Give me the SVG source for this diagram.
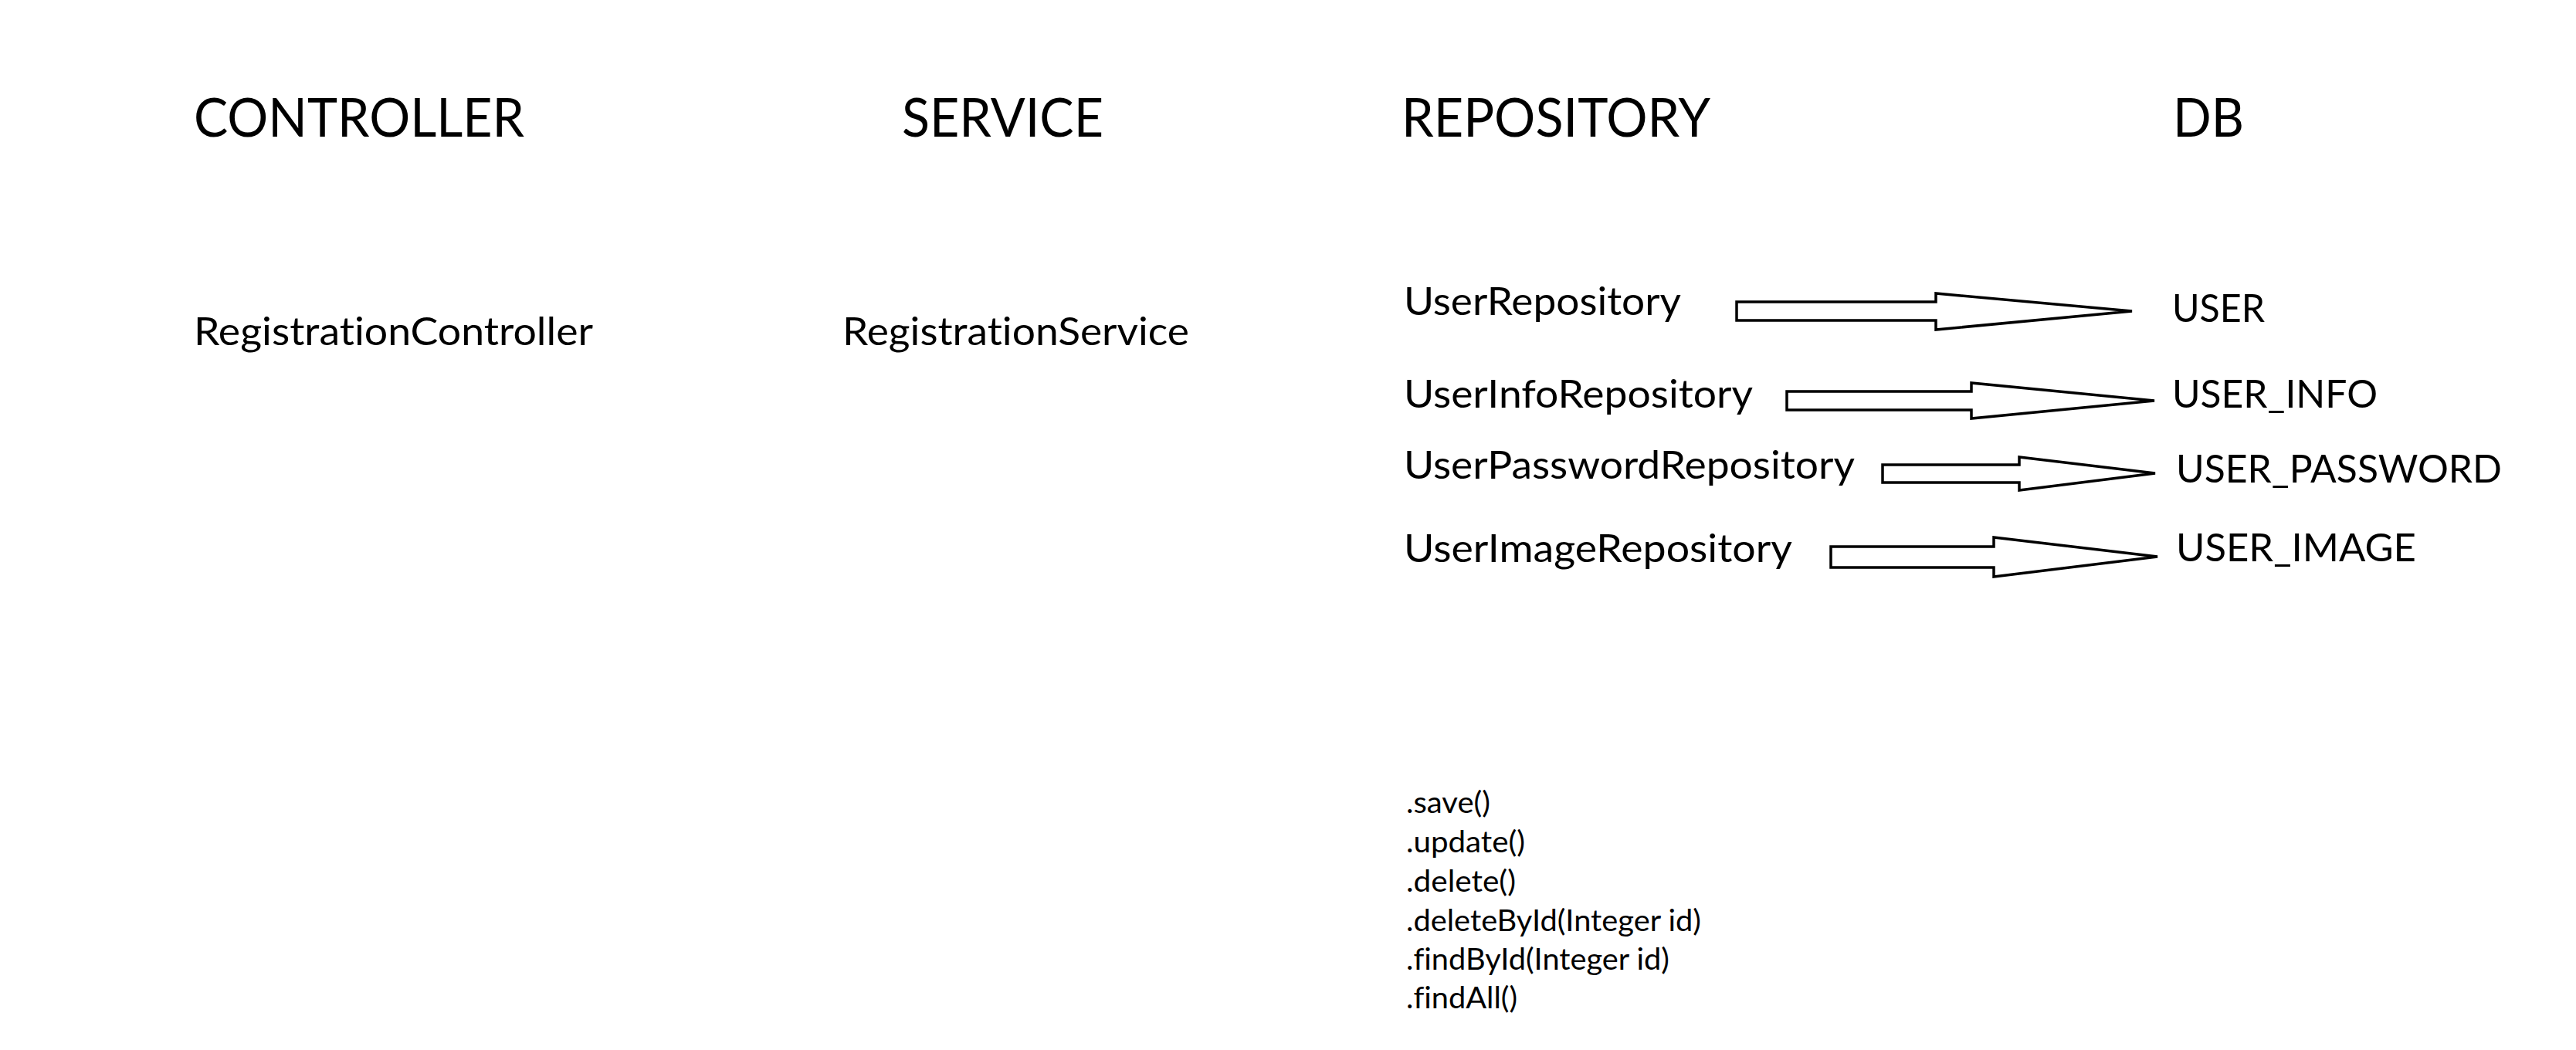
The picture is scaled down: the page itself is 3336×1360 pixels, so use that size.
<svg xmlns="http://www.w3.org/2000/svg" width="3336" height="1360" viewBox="0 0 3336 1360">
<style>
text { font-family: Lato, "Noto Sans", "Liberation Sans", sans-serif; fill: #000; font-variant-ligatures: none; font-feature-settings: "liga" 0; }
.h { font-size: 70px; }
.n { font-size: 50px; }
.m { font-size: 38px; }
.arrow { fill: #fff; stroke: #000; stroke-width: 3.5; stroke-linejoin: miter; }
</style>
<rect width="3336" height="1360" fill="#fff"/>
<g id="headers">
<text class="h" x="251" y="177" textLength="428" lengthAdjust="spacingAndGlyphs">CONTROLLER</text>
<text class="h" x="1168" y="177" textLength="261" lengthAdjust="spacingAndGlyphs">SERVICE</text>
<text class="h" x="1815" y="177" textLength="400" lengthAdjust="spacingAndGlyphs">REPOSITORY</text>
<text class="h" x="2814" y="177" textLength="92" lengthAdjust="spacingAndGlyphs">DB</text>
</g>
<g id="RegistrationController"><text class="n" x="251" y="447" textLength="517" lengthAdjust="spacingAndGlyphs">RegistrationController</text></g>
<g id="RegistrationService"><text class="n" x="1091" y="447" textLength="449" lengthAdjust="spacingAndGlyphs">RegistrationService</text></g>
<g id="UserRepository"><text class="n" x="1818" y="408" textLength="359" lengthAdjust="spacingAndGlyphs">UserRepository</text></g>
<g id="UserInfoRepository"><text class="n" x="1818" y="528" textLength="452" lengthAdjust="spacingAndGlyphs">UserInfoRepository</text></g>
<g id="UserPasswordRepository"><text class="n" x="1818" y="620" textLength="584" lengthAdjust="spacingAndGlyphs">UserPasswordRepository</text></g>
<g id="UserImageRepository"><text class="n" x="1818" y="728" textLength="503" lengthAdjust="spacingAndGlyphs">UserImageRepository</text></g>
<g id="USER"><text class="n" x="2813" y="417" textLength="120" lengthAdjust="spacingAndGlyphs">USER</text></g>
<g id="USER_INFO"><text class="n" x="2813" y="528" textLength="266" lengthAdjust="spacingAndGlyphs">USER_INFO</text></g>
<g id="USER_PASSWORD"><text class="n" x="2818" y="625" textLength="422" lengthAdjust="spacingAndGlyphs">USER_PASSWORD</text></g>
<g id="USER_IMAGE"><text class="n" x="2818" y="727" textLength="311" lengthAdjust="spacingAndGlyphs">USER_IMAGE</text></g>
<g id="methods">
<text class="m" x="1821" y="1053" textLength="109" lengthAdjust="spacingAndGlyphs">.save()</text>
<text class="m" x="1821" y="1104" textLength="154" lengthAdjust="spacingAndGlyphs">.update()</text>
<text class="m" x="1821" y="1155" textLength="142" lengthAdjust="spacingAndGlyphs">.delete()</text>
<text class="m" x="1821" y="1206" textLength="382" lengthAdjust="spacingAndGlyphs">.deleteById(Integer id)</text>
<text class="m" x="1821" y="1256" textLength="341" lengthAdjust="spacingAndGlyphs">.findById(Integer id)</text>
<text class="m" x="1821" y="1306" textLength="144" lengthAdjust="spacingAndGlyphs">.findAll()</text>
</g>
<g id="connectors">
<polygon class="arrow" points="2249,391 2507,391 2507,380 2761,403 2507,427 2507,415 2249,415"/>
<polygon class="arrow" points="2314,507 2553,507 2553,496 2790,519 2553,542 2553,531 2314,531"/>
<polygon class="arrow" points="2438,602 2615,602 2615,592 2791,613 2615,635 2615,625 2438,625"/>
<polygon class="arrow" points="2371,708 2582,708 2582,696 2794,721 2582,747 2582,735 2371,735"/>
</g>
</svg>
